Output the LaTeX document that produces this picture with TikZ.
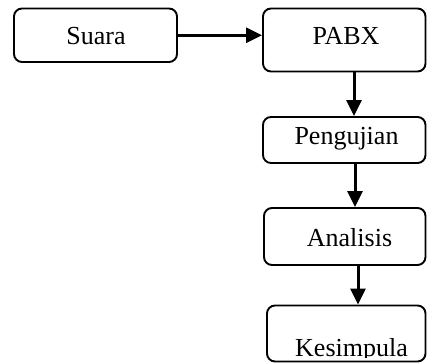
\documentclass[tikz,border=0pt]{standalone}
\usepackage{fontspec}
\setmainfont{Liberation Serif}
\usetikzlibrary{arrows.meta}
\begin{document}
\begin{tikzpicture}[x=1pt,y=1pt,
  box/.style={draw, line width=1.9pt, rounded corners=8pt, inner sep=0pt, minimum width=#1},
  lbl/.style={anchor=base, inner sep=0pt, font=\fontsize{26}{30}\selectfont},
  conn/.style={line width=3pt, -{Triangle[length=16pt,width=15pt]}}]
\useasboundingbox (0,0) rectangle (427,363);
\begin{scope}
\clip (0,0) rectangle (427,363);
% y = 363 - yimg
\node[box=163pt, minimum height=53.5pt] (suara) at (95.5,327.75) {};
\node[box=162.5pt, minimum height=63pt] (pabx) at (344.25,323) {};
\node[box=162.5pt, minimum height=46pt] (peng) at (344.25,223) {};
\node[box=161.5pt, minimum height=57pt] (ana) at (344.75,126.5) {};
\node[box=158.5pt, minimum height=56pt] (kes) at (346.25,29.5) {};

\node[lbl] (tsuara) at (96,318) {Suara};
\node[lbl] (tpabx) at (346,318) {PABX};
\node[lbl] (tpeng) at (346.5,218) {Pengujian};
\node[lbl] (tana) at (349.5,116) {Analisis};
\begin{scope}
\clip (260,5.5) rectangle (427,40);
\node[lbl] (tkes) at (351.5,6.5) {Kesimpula};
\end{scope}

\draw[conn] (suara.east) -- (suara.east -| pabx.west);
\draw[conn] ([xshift=9.75pt]pabx.south) -- ([xshift=9.75pt]pabx.south |- peng.north);
\draw[conn] ([xshift=10.75pt]peng.south) -- ([xshift=10.75pt]peng.south |- ana.north);
\draw[conn] ([xshift=13.25pt]ana.south) -- ([xshift=13.25pt]ana.south |- kes.north);
\end{scope}
\end{tikzpicture}
\end{document}
